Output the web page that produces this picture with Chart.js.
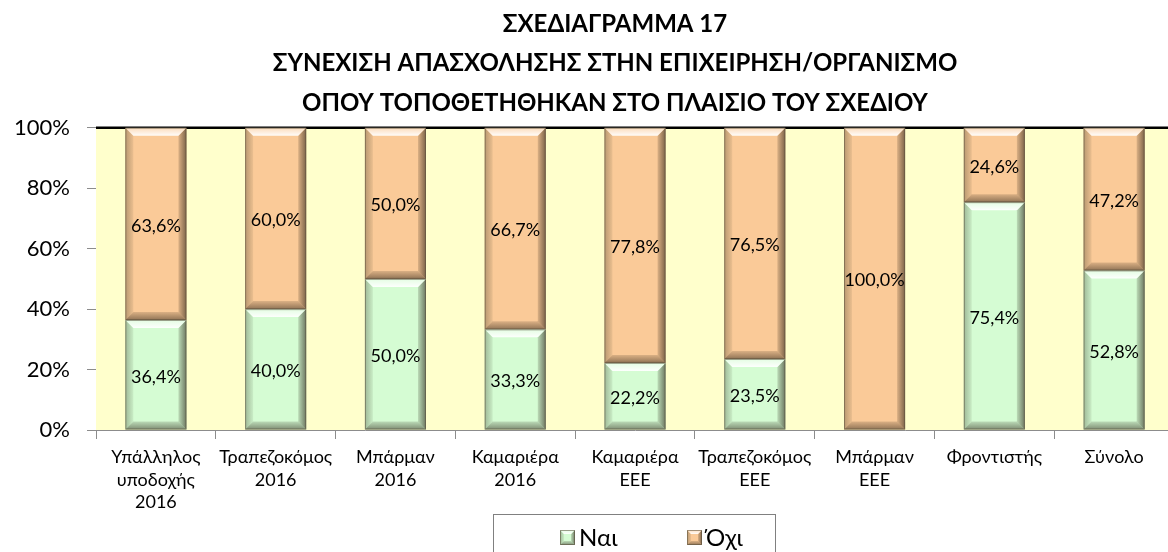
<!DOCTYPE html>
<html>
<head>
<meta charset="utf-8">
<script src="https://cdn.jsdelivr.net/npm/chart.js@4.4.0/dist/chart.umd.min.js"></script>
<style>
html,body{margin:0;padding:0;background:#fff;overflow:hidden;}
#wrap{width:1230px;height:552px;position:relative;}
</style>
</head>
<body>
<div id="wrap"><canvas id="c" width="1230" height="552"></canvas></div>
<script>
const titleLines = ['ΣΧΕΔΙΑΓΡΑΜΜΑ 17','ΣΥΝΕΧΙΣΗ ΑΠΑΣΧΟΛΗΣΗΣ ΣΤΗΝ ΕΠΙΧΕΙΡΗΣΗ/ΟΡΓΑΝΙΣΜΟ','ΟΠΟΥ ΤΟΠΟΘΕΤΗΘΗΚΑΝ ΣΤΟ ΠΛΑΙΣΙΟ ΤΟΥ ΣΧΕΔΙΟΥ'];
const categories = [
  ['Υπάλληλος','υποδοχής','2016'],
  ['Τραπεζοκόμος','2016'],
  ['Μπάρμαν','2016'],
  ['Καμαριέρα','2016'],
  ['Καμαριέρα','ΕΕΕ'],
  ['Τραπεζοκόμος','ΕΕΕ'],
  ['Μπάρμαν','ΕΕΕ'],
  'Φροντιστής',
  'Σύνολο'
];
const seriesNames = ['Ναι','Όχι'];
const yesValues = [36.4, 40.0, 50.0, 33.3, 22.2, 23.5, 0, 75.4, 52.8];
const noValues  = [63.6, 60.0, 50.0, 66.7, 77.8, 76.5, 100.0, 24.6, 47.2];
const yTicks = [0, 20, 40, 60, 80, 100];

const FONT = 'Lato, "Open Sans", sans-serif';
const GREEN = '#D5FCD3';
const ORANGE = '#FACA98';

function poly(ctx, pts, fill){
  ctx.beginPath();
  ctx.moveTo(pts[0][0], pts[0][1]);
  for (let i=1;i<pts.length;i++) ctx.lineTo(pts[i][0], pts[i][1]);
  ctx.closePath();
  ctx.fillStyle = fill;
  ctx.fill();
}

function bevel(ctx, l, t, r, b, dmax){
  const d = Math.min(dmax, (b - t)/3, (r - l)/3);
  const gl = ctx.createLinearGradient(l, 0, l + d, 0);
  gl.addColorStop(0, 'rgba(60,60,40,0.35)');
  gl.addColorStop(1, 'rgba(60,60,40,0.08)');
  poly(ctx, [[l,t],[l+d,t+d],[l+d,b-d],[l,b]], gl);
  const gr = ctx.createLinearGradient(r - d, 0, r, 0);
  gr.addColorStop(0, 'rgba(40,30,20,0.15)');
  gr.addColorStop(1, 'rgba(40,30,20,0.6)');
  poly(ctx, [[r,t],[r-d,t+d],[r-d,b-d],[r,b]], gr);
  const gb = ctx.createLinearGradient(0, b - d, 0, b);
  gb.addColorStop(0, 'rgba(40,30,20,0.15)');
  gb.addColorStop(1, 'rgba(40,30,20,0.5)');
  poly(ctx, [[l,b],[l+d,b-d],[r-d,b-d],[r,b]], gb);
  const gt = ctx.createLinearGradient(0, t, 0, t + d);
  gt.addColorStop(0, 'rgba(255,255,255,0.35)');
  gt.addColorStop(1, 'rgba(255,255,255,0.95)');
  poly(ctx, [[l,t],[r,t],[r-d,t+d],[l+d,t+d]], gt);
  ctx.strokeStyle = 'rgba(90,80,60,0.55)';
  ctx.lineWidth = 1;
  ctx.strokeRect(l + 0.5, t + 0.5, r - l - 1, b - t - 1);
}

const decor = {
  id: 'decor',
  beforeDatasetsDraw(chart){
    const {ctx, chartArea:a} = chart;
    ctx.save();
    ctx.fillStyle = '#FFFFCC';
    ctx.fillRect(a.left, a.top, a.right - a.left, a.bottom - a.top);
    ctx.strokeStyle = '#000';
    ctx.lineWidth = 2.5;
    ctx.beginPath();
    ctx.moveTo(a.left, a.top);
    ctx.lineTo(a.right, a.top);
    ctx.stroke();
    ctx.restore();
  },
  afterDatasetsDraw(chart){
    const ctx = chart.ctx;
    ctx.save();
    chart.data.datasets.forEach((ds, i) => {
      const meta = chart.getDatasetMeta(i);
      meta.data.forEach((bar, j) => {
        if (!ds.data[j]) return;
        const p = bar.getProps(['x','y','base','width'], true);
        bevel(ctx, p.x - p.width/2, Math.min(p.y, p.base), p.x + p.width/2, Math.max(p.y, p.base), 8);
      });
    });
    ctx.fillStyle = '#000';
    ctx.font = '18px ' + FONT;
    ctx.textAlign = 'center';
    ctx.textBaseline = 'middle';
    chart.data.datasets.forEach((ds, i) => {
      const meta = chart.getDatasetMeta(i);
      meta.data.forEach((bar, j) => {
        const v = ds.data[j];
        if (!v) return;
        const p = bar.getProps(['x','y','base'], true);
        ctx.fillText(v.toFixed(1).replace('.', ',') + '%', p.x, (p.y + p.base)/2 + 2);
      });
    });
    ctx.restore();
  },
  afterDraw(chart){
    // legend box with series markers
    const ctx = chart.ctx;
    ctx.save();
    ctx.strokeStyle = '#808080';
    ctx.lineWidth = 1;
    ctx.strokeRect(493.5, 514.5, 282, 60);
    const xs = [560, 687];
    ctx.font = '24px ' + FONT;
    ctx.textAlign = 'left';
    ctx.textBaseline = 'middle';
    chart.data.datasets.forEach((ds, i) => {
      const x = xs[i], y = 530;
      ctx.fillStyle = ds.backgroundColor;
      ctx.fillRect(x, y, 15, 15);
      bevel(ctx, x, y, x + 15, y + 15, 4);
      ctx.fillStyle = '#000';
      ctx.fillText(ds.label, x + 19, y + 8);
    });
    ctx.restore();
  }
};

new Chart(document.getElementById('c'), {
  type: 'bar',
  data: {
    labels: categories,
    datasets: [
      { label: seriesNames[0], data: yesValues, backgroundColor: GREEN, borderWidth: 0,
        barPercentage: 0.51, categoryPercentage: 1.0 },
      { label: seriesNames[1], data: noValues, backgroundColor: ORANGE, borderWidth: 0,
        barPercentage: 0.51, categoryPercentage: 1.0 }
    ]
  },
  options: {
    responsive: false,
    animation: false,
    layout: { padding: { left: 0, right: 0, top: 0, bottom: 37 } },
    scales: {
      x: {
        stacked: true,
        grid: { display: true, drawOnChartArea: false, offset: true, tickLength: 9, color: '#8c8c8c' },
        border: { color: '#8c8c8c', width: 1 },
        ticks: { color: '#000', font: { family: FONT, size: 18, lineHeight: 1.25 }, maxRotation: 0, autoSkip: false, padding: 7 },
        afterFit(s){ s.height = 85; }
      },
      y: {
        stacked: true,
        min: 0, max: 100,
        afterBuildTicks(s){ s.ticks = yTicks.map(v => ({ value: v })); },
        grid: { display: true, drawOnChartArea: false, tickLength: 9, color: '#8c8c8c' },
        border: { color: '#8c8c8c', width: 1 },
        ticks: { color: '#000', font: { family: FONT, size: 22 }, padding: 17, callback: v => v + '%' },
        afterFit(s){ s.width = 96; }
      },
      spacer: {
        type: 'linear',
        position: 'right',
        display: true,
        grid: { display: false },
        border: { display: false },
        ticks: { display: false },
        afterFit(s){ s.width = 56; }
      }
    },
    plugins: {
      title: {
        display: true,
        text: titleLines,
        color: '#000',
        font: { family: FONT, size: 24, weight: 'bold', lineHeight: 1.65 },
        padding: { top: 4, bottom: 5 }
      },
      legend: { display: false },
      tooltip: { enabled: false }
    }
  },
  plugins: [decor]
});
</script>
</body>
</html>
